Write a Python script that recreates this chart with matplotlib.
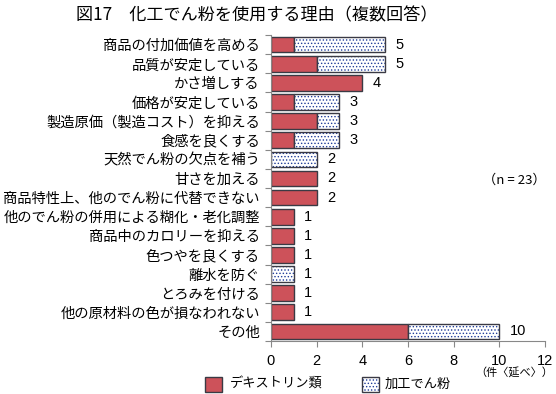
import matplotlib.pyplot as plt
import numpy as np

plt.rcParams['font.family'] = ['Noto Sans CJK JP', 'DejaVu Sans']
plt.rcParams['hatch.linewidth'] = 0.6

categories = ["商品の付加価値を高める", "品質が安定している", "かさ増しする", "価格が安定している",
              "製造原価（製造コスト）を抑える", "食感を良くする", "天然でん粉の欠点を補う", "甘さを加える",
              "商品特性上、他のでん粉に代替できない", "他のでん粉の併用による糊化・老化調整",
              "商品中のカロリーを抑える", "色つやを良くする", "離水を防ぐ", "とろみを付ける",
              "他の原材料の色が損なわれない", "その他"]
dextrin = np.array([1, 2, 4, 1, 2, 1, 0, 2, 2, 1, 1, 1, 0, 1, 1, 6])
modified = np.array([4, 3, 0, 2, 1, 2, 2, 0, 0, 0, 0, 0, 1, 0, 0, 4])
totals = dextrin + modified

red = '#cd525a'
edge = '#3a3a44'
dot = '#1f3c9a'

fig = plt.figure(figsize=(5.56, 3.94), dpi=100)
ax = fig.add_axes([0.4874, 0.1345, 0.4928, 0.7765])

y = np.arange(len(categories))
h = 0.82
ax.barh(y, dextrin, height=h, color=red, edgecolor=edge, linewidth=1.0)
# dotted part: hatch in blue, then a dark outline on top
ax.barh(y, modified, left=dextrin, height=h, color='white', edgecolor=dot,
        hatch='.....', linewidth=0)
mask = modified > 0
ax.barh(y[mask], modified[mask], left=dextrin[mask], height=h, color='none',
        edgecolor=edge, linewidth=1.0)

for yi, t in zip(y, totals):
    ax.text(t + 0.45, yi, str(t), va='center', ha='left', fontsize=10.5, family='Liberation Sans')

ax.set_xlim(0, 12)
ax.set_ylim(len(categories) - 0.5, -0.5)
ax.set_xticks(range(0, 13, 2))
ax.set_xticklabels([str(v) for v in range(0, 13, 2)], family='Liberation Sans', fontsize=10.5)
ax.set_yticks(np.arange(-0.5, len(categories), 1))
ax.set_yticklabels([])
ax.set_yticks(y, minor=True)
ax.set_yticklabels(categories, minor=True, fontsize=10.3)
ax.tick_params(axis='y', which='minor', length=0, pad=8)
ax.tick_params(axis='y', which='major', length=4, color='#888888')
ax.tick_params(axis='x', length=4, color='#888888', pad=5)
for s in ['top', 'right']:
    ax.spines[s].set_visible(False)
ax.spines['left'].set_color('#888888')
ax.spines['bottom'].set_color('#888888')

fig.text(0.462, 0.962, "図17　化工でん粉を使用する理由（複数回答）", ha='center', va='center', fontsize=12.3)
fig.text(0.868, 0.543, "（n = 23）", ha='left', va='center', fontsize=9.5)
fig.text(0.995, 0.053, "（件〈延べ〉）", ha='right', va='center', fontsize=8)

# legend
fig.patches.append(plt.Rectangle((0.369, 0.006), 0.031, 0.038, transform=fig.transFigure,
                                 facecolor=red, edgecolor=edge, linewidth=1.0))
fig.text(0.414, 0.025, "デキストリン類", ha='left', va='center', fontsize=9.5)
fig.patches.append(plt.Rectangle((0.651, 0.006), 0.031, 0.038, transform=fig.transFigure,
                                 facecolor='white', edgecolor=dot, hatch='.....', linewidth=0))
fig.patches.append(plt.Rectangle((0.651, 0.006), 0.031, 0.038, transform=fig.transFigure,
                                 facecolor='none', edgecolor=edge, linewidth=1.0))
fig.text(0.692, 0.025, "加工でん粉", ha='left', va='center', fontsize=9.5)

fig.savefig('out.png', dpi=100)
